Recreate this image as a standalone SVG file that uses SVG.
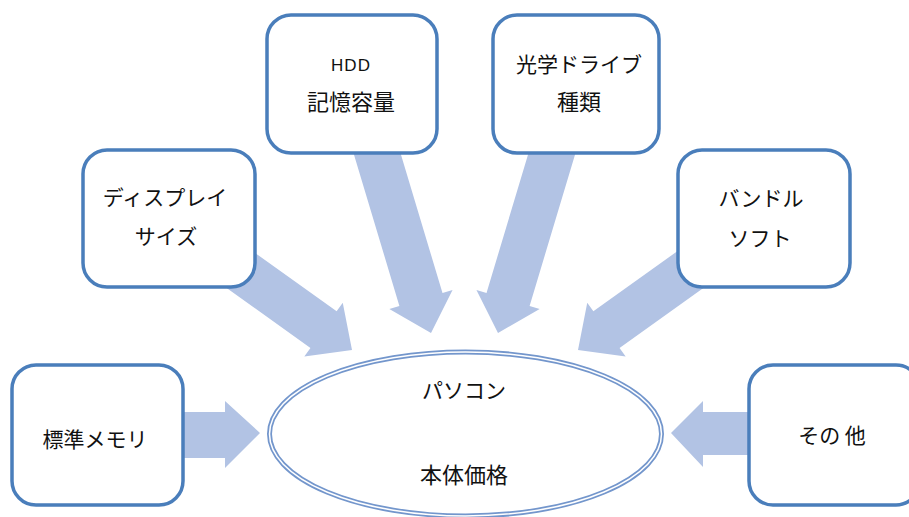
<svg xmlns="http://www.w3.org/2000/svg" width="909" height="517" viewBox="0 0 909 517">
<defs>
<style>
.box{fill:#ffffff;stroke:#4a7ebb;stroke-width:3.5}
.arr{fill:#b2c3e4}
.t{font-family:"Noto Sans CJK JP","Noto Sans CJK SC",sans-serif;font-size:21px;fill:#111111;text-anchor:middle;dominant-baseline:central}
.k{font-size:22px}
.en{font-family:"Liberation Sans",Arial,sans-serif;font-size:17px;letter-spacing:1px}
</style>
<polygon id="ah" points="0,0 -35,-33 -35,-22.5 -200,-22.5 -200,22.5 -35,22.5 -35,33"/>
<polygon id="ahs" points="0,0 -35,-33 -35,-22.5 -160,-22.5 -160,22.5 -35,22.5 -35,33"/>
</defs>
<rect width="909" height="517" fill="#ffffff"/>
<g id="connectors">
<polygon class="arr" points="260,433 225,401 225,412 178,412 178,458 225,458 225,468"/>
<polygon class="arr" points="671,433 703,401 703,412 752,412 752,455 703,455 703,467"/>
<use href="#ahs" class="arr" transform="translate(352,350) rotate(35.6)"/>
<use href="#ah" class="arr" transform="translate(431,333) rotate(73.3)"/>
<use href="#ah" class="arr" transform="translate(498,333) rotate(106.7)"/>
<use href="#ahs" class="arr" transform="translate(578,350) rotate(144.4)"/>
</g>
<g id="node-memory">
<rect class="box" x="12" y="365" width="171" height="140" rx="24"/>
<text class="t" x="95" y="438">標準メモリ</text>
</g>
<g id="node-display">
<rect class="box" x="83" y="150" width="172" height="137" rx="24"/>
<text class="t" x="165" y="196">ディスプレイ</text>
<text class="t" x="166" y="235">サイズ</text>
</g>
<g id="node-hdd">
<rect class="box" x="267" y="15" width="170" height="138" rx="24"/>
<text class="t en" x="351" y="65">HDD</text>
<text class="t k" x="351" y="100">記憶容量</text>
</g>
<g id="node-optical">
<rect class="box" x="493" y="15" width="166" height="138" rx="24"/>
<text class="t" x="579" y="63">光学ドライブ</text>
<text class="t k" x="579" y="100">種類</text>
</g>
<g id="node-bundle">
<rect class="box" x="678" y="150" width="172" height="137" rx="24"/>
<text class="t" x="761" y="197">バンドル</text>
<text class="t" x="760" y="237">ソフト</text>
</g>
<g id="node-other">
<rect class="box" x="749" y="365" width="171" height="140" rx="24"/>
<text class="t" x="832" y="434">その 他</text>
</g>
<g id="node-pc">
<ellipse cx="465.5" cy="434" rx="196" ry="82" fill="#ffffff" stroke="#7396cc" stroke-width="5"/>
<ellipse cx="465.5" cy="434" rx="196" ry="82" fill="none" stroke="#ffffff" stroke-width="1.5"/>
<text class="t" x="464" y="389">パソコン</text>
<text class="t k" x="464" y="473">本体価格</text>
</g>
</svg>
